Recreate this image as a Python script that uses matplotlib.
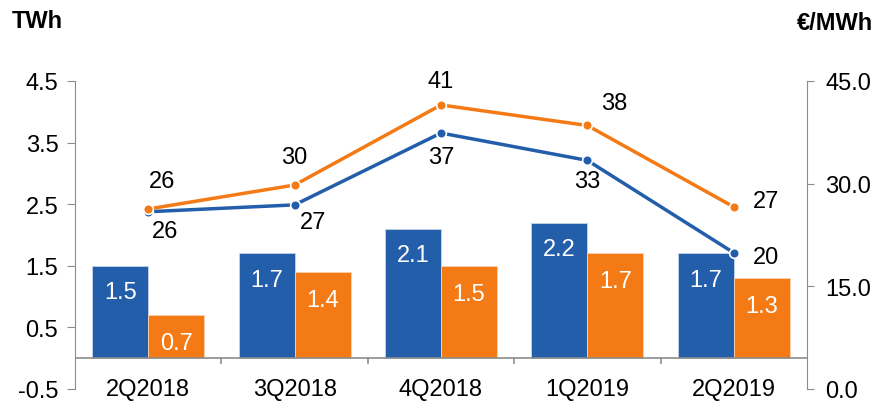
import numpy as np
import matplotlib.pyplot as plt

plt.rcParams['font.family'] = ['Liberation Sans', 'DejaVu Sans']

quarters = ['2Q2018', '3Q2018', '4Q2018', '1Q2019', '2Q2019']
twh_blue = [1.5, 1.7, 2.1, 2.2, 1.7]
twh_orange = [0.7, 1.4, 1.5, 1.7, 1.3]
price_blue = [25.9, 26.9, 37.4, 33.4, 19.9]
price_orange = [26.3, 29.8, 41.5, 38.5, 26.6]
price_blue_lbl = ['26', '27', '37', '33', '20']
price_orange_lbl = ['26', '30', '41', '38', '27']

blue = '#235EAB'
orange = '#F47A15'
grey = '#8C8C8C'

fig = plt.figure(figsize=(8.79, 4.06), dpi=100)
ax = fig.add_axes([75 / 879, 16 / 406, 732 / 879, 308 / 406])
ax2 = ax.twinx()

x = np.arange(len(quarters))
w = 0.383
ax.bar(x - w / 2, twh_blue, w, color=blue, edgecolor='#c8d4ea', linewidth=0.6, zorder=2)
ax.bar(x + w / 2, twh_orange, w, color=orange, edgecolor='#fbd2b0', linewidth=0.6, zorder=2)

for i in range(len(x)):
    ax.annotate(f'{twh_blue[i]:.1f}', (x[i] - w / 2, twh_blue[i]), xytext=(0, -19),
                textcoords='offset points', ha='center', va='center', color='white', fontsize=17)
    ax.annotate(f'{twh_orange[i]:.1f}', (x[i] + w / 2, twh_orange[i]), xytext=(0, -20),
                textcoords='offset points', ha='center', va='center', color='white', fontsize=17)

ax.axhline(0, color=grey, linewidth=1.2, zorder=3)
ax.set_xlim(-0.5, 4.5)
ax.set_ylim(-0.5, 4.5)
ax.set_yticks(np.arange(-0.5, 4.6, 1.0))
ax.set_yticklabels([f'{v:.1f}' for v in np.arange(-0.5, 4.6, 1.0)], fontsize=17)
ax.set_xticks([])
ax.tick_params(axis='y', length=6, color=grey, pad=6)
# category labels sit just below the zero line
for i, q in enumerate(quarters):
    ax.text(x[i], -0.5, q, ha='center', va='center', fontsize=17)
# separators between categories, below the zero line
for s in [0.5, 1.5, 2.5, 3.5]:
    ax.plot([s, s], [0, -0.08], color=grey, linewidth=1.2, clip_on=False, zorder=3)

ax2.set_ylim(0, 45)
ax2.set_yticks([0, 15, 30, 45])
ax2.set_yticklabels(['0.0', '15.0', '30.0', '45.0'], fontsize=17)
ax2.tick_params(axis='y', length=5, color=grey, pad=8)

ax2.plot(x, price_blue, color=blue, linewidth=2.5, marker='o', markersize=7,
         markeredgecolor='white', markeredgewidth=1.2, zorder=4)
ax2.plot(x, price_orange, color=orange, linewidth=2.5, marker='o', markersize=7,
         markeredgecolor='white', markeredgewidth=1.2, zorder=4)

orange_off = [(10, 20), (0, 20), (0, 17), (19, 16), (23, 4)]
blue_off = [(12, -14), (13, -12), (0, -17), (0, -15), (23, -3)]
for i in range(len(x)):
    ax2.annotate(price_orange_lbl[i], (x[i], price_orange[i]), xytext=orange_off[i],
                 textcoords='offset points', ha='center', va='center', fontsize=17)
    ax2.annotate(price_blue_lbl[i], (x[i], price_blue[i]), xytext=blue_off[i],
                 textcoords='offset points', ha='center', va='center', fontsize=17)

for a in (ax, ax2):
    for side in ['top', 'bottom']:
        a.spines[side].set_visible(False)
    a.spines['left'].set_color(grey)
    a.spines['right'].set_color(grey)
ax2.spines['left'].set_visible(False)
ax.spines['right'].set_visible(False)

fig.text(12 / 879, 1 - 22 / 406, 'TWh', fontsize=17, fontweight='bold', va='center')
fig.text(873 / 879, 1 - 24 / 406, '€/MWh', fontsize=17, fontweight='bold', va='center', ha='right')

fig.savefig('out.png', dpi=100)
